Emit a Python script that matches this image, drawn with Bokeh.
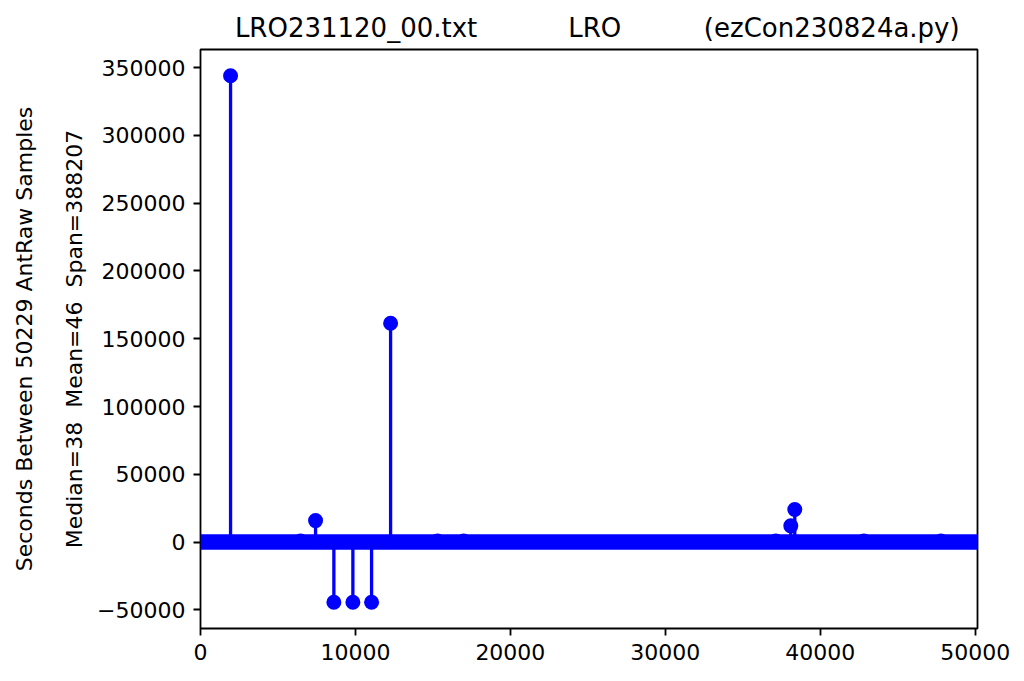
from bokeh.plotting import figure
from bokeh.models import LinearAxis, FixedTicker, BasicTickFormatter, ColumnDataSource
from bokeh.embed import file_html
from bokeh.resources import INLINE

# ---- data ----
n_samples = 50229
median_s = 38
mean_s = 46
span_s = 388207

# samples that stand out from the dense band at the median
spike_x = [1940, 6457, 7426, 8608, 9835, 11042, 12269, 15306, 16985,
           37133, 38099, 38357, 42816, 47790]
spike_y = [343900, 800, 15855, -44307, -44307, -44307, 161400, 800, 800,
           800, 12000, 24000, 800, 800]

x_ticks = [0, 10000, 20000, 30000, 40000, 50000]
y_ticks = [-50000, 0, 50000, 100000, 150000, 200000, 250000, 300000, 350000]

file_name = "LRO231120_00.txt"
site = "LRO"
prog = "(ezCon230824a.py)"

FONT = "DejaVu Sans"
BLUE = "#0000ff"
NB = "\u00a0"

ymin = min(spike_y)
ymax = max(spike_y)
pad = 0.05 * (ymax - ymin)

p = figure(width=1016, height=673,
           x_range=(0, 50150), y_range=(ymin - pad, ymax + pad),
           output_backend="svg", toolbar_location=None,
           min_border_left=200, min_border_right=39,
           min_border_top=49, min_border_bottom=45)

p.title.text = NB * 2 + file_name + NB * 11 + site + NB * 10 + prog
p.title.align = "center"
p.title.text_font = FONT
p.title.text_font_size = "26px"
p.title.text_font_style = "normal"
p.title.text_color = "black"
p.title.standoff = 13

p.grid.visible = False
p.outline_line_color = "black"
p.outline_line_width = 1.8
p.background_fill_color = "white"
p.border_fill_color = "white"

for ax in (p.xaxis[0], p.yaxis[0]):
    ax.axis_line_color = None
    ax.major_tick_line_color = "black"
    ax.major_tick_line_width = 1.8
    ax.major_tick_out = 7
    ax.major_tick_in = 0
    ax.minor_tick_out = 0
    ax.minor_tick_in = 0
    ax.major_label_text_font = FONT
    ax.major_label_text_font_size = "22px"
    ax.major_label_text_color = "black"
    ax.major_label_standoff = 8
    ax.formatter = BasicTickFormatter(use_scientific=False)

p.xaxis[0].ticker = FixedTicker(ticks=x_ticks)
p.yaxis[0].ticker = FixedTicker(ticks=y_ticks)

p.yaxis[0].axis_label = f"Median={median_s}{NB*2}Mean={mean_s}{NB*2}Span={span_s}"
p.yaxis[0].axis_label_text_font = FONT
p.yaxis[0].axis_label_text_font_size = "22px"
p.yaxis[0].axis_label_text_font_style = "normal"
p.yaxis[0].axis_label_text_color = "black"
p.yaxis[0].axis_label_standoff = 7

outer = LinearAxis(ticker=FixedTicker(ticks=[]),
                   axis_label=f"Seconds Between {n_samples} AntRaw Samples",
                   axis_line_color=None, major_tick_out=0, major_tick_in=0,
                   minor_tick_out=0, minor_tick_in=0,
                   major_label_text_font_size="0px",
                   axis_label_text_font=FONT, axis_label_text_font_size="22px",
                   axis_label_text_font_style="normal",
                   axis_label_text_color="black", axis_label_standoff=23)
p.add_layout(outer, "left")

# dense band: all other samples sit at the median value
p.segment(x0=[0], y0=[median_s], x1=[n_samples - 1], y1=[median_s],
          line_color=BLUE, line_width=15.6, line_cap="butt")

src = ColumnDataSource(dict(x=spike_x, y=spike_y, y0=[0] * len(spike_x)))
p.segment(x0="x", y0="y0", x1="x", y1="y", source=src,
          line_color=BLUE, line_width=3.3)
p.scatter(x="x", y="y", source=src, size=15, fill_color=BLUE,
          line_color=None, marker="circle")

open("out.html", "w").write(file_html(p, INLINE))
